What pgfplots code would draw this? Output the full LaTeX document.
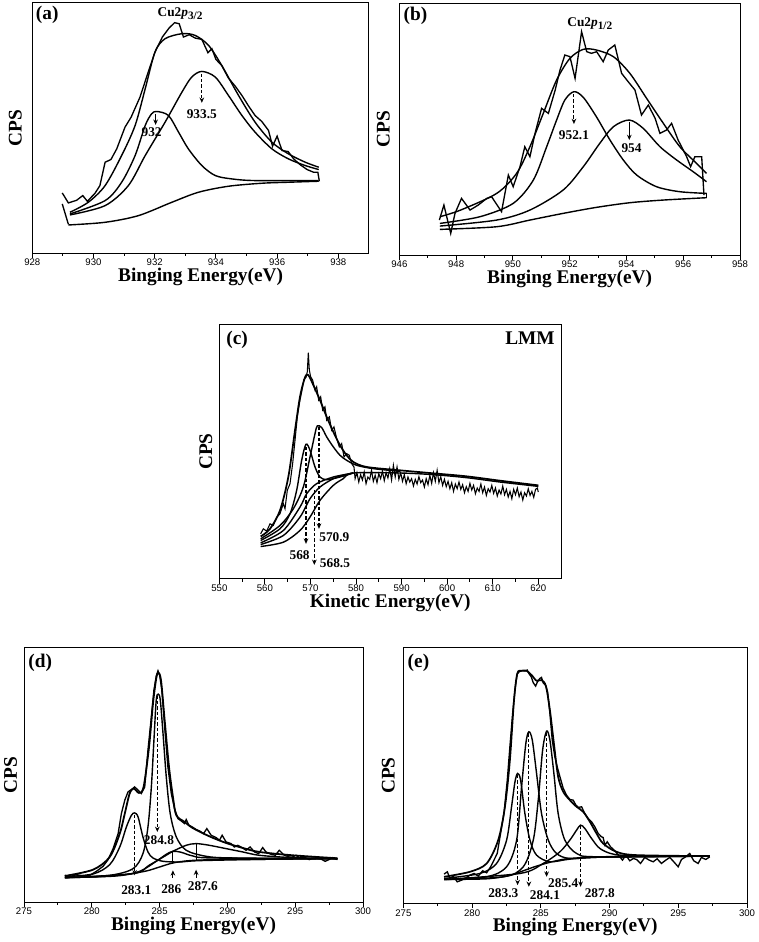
\documentclass[border=0pt]{standalone}
\usepackage{fontspec}
\setmainfont{Liberation Serif}
\newfontfamily\arialf{Liberation Sans}
\usepackage{pgfplots}
\pgfplotsset{compat=1.18}
\usetikzlibrary{arrows.meta}
\newcommand\pk{\bfseries\fontsize{10}{11}\selectfont}
\newcommand\pl{\bfseries\fontsize{14.5}{16}\selectfont}
\tikzset{
  dasharr/.style={dash pattern=on 2.5pt off 1.5pt, line width=0.85pt, -{Stealth[length=4pt,width=3.5pt]}},
  solarr/.style={line width=0.85pt, -{Stealth[length=4pt,width=3.5pt]}},
}
\pgfplotsset{
  xps/.style={
    scale only axis, anchor=north west, ymin=0,
    axis line style={line width=0.75pt},
    ytick=\empty, xtick pos=bottom, tick align=outside,
    minor x tick num=1,
    major tick length=3.5pt, minor tick length=2pt,
    tick style={black, line width=0.7pt},
    xticklabel style={font=\arialf\fontsize{7.2}{8}\selectfont, inner sep=0pt, anchor=north, yshift=-0.8pt},
    /pgf/number format/assume math mode=true,
    /pgf/number format/1000 sep={},
    label style={font=\bfseries\fontsize{14.5}{16}\selectfont, inner sep=0pt},
    xlabel style={at={(axis description cs:0.5,0)}, anchor=north, yshift=-11pt},
    ylabel={CPS},
  },
  fit/.style={black, line width=1.05pt, mark=none, smooth, tension=0.5},
  raw/.style={black, line width=1pt, mark=none, sharp plot},
}
\begin{document}
\begin{tikzpicture}
\path[use as bounding box] (0,0) rectangle (568.5pt,-706.5pt);

% ---------------- (a)
\begin{axis}[xps, at={(24.2pt,-2.25pt)}, width=252.5pt, height=187.5pt,
  xmin=928, xmax=939, ymax=749, xtick={928,930,...,938},
  xlabel={Binging Energy(eV)},
  ylabel style={at={(axis description cs:-0.03,0.5)}, anchor=south}]
\addplot[fit] coordinates {(929.18,84) (930.38,92) (931.47,112) (932.56,152) (933.43,182) (934.41,200) (935.50,209) (936.37,212) (937.36,215)};
\addplot[raw] coordinates {(928.98,147) (929.18,86)};
\addplot[fit] coordinates {(929.23,117) (930.38,157) (930.92,212) (931.36,292) (931.69,382) (931.90,417) (932.07,424) (932.45,412) (932.78,362) (933.10,312) (933.54,262) (933.98,232) (934.52,222) (935.28,217) (937.36,217)};
\addplot[fit] coordinates {(929.23,114) (930.38,142) (931.14,202) (931.69,292) (932.34,392) (932.89,482) (933.21,527) (933.54,544) (933.98,527) (934.41,472) (934.85,412) (935.28,362) (935.83,312) (936.37,282) (936.92,262) (937.36,250)};
\addplot[fit] coordinates {(929.23,122) (929.83,152) (930.38,202) (930.92,292) (931.36,382) (931.69,492) (932.01,602) (932.34,642) (932.89,657) (933.32,652) (933.76,622) (934.19,562) (934.74,472) (935.28,392) (935.83,332) (936.37,297) (936.92,272) (937.36,257)};
\addplot[raw] coordinates {(928.98,180) (929.18,150) (929.45,158) (929.65,172) (929.80,155) (930.05,179) (930.21,202) (930.38,272) (930.57,280) (930.76,312) (931.03,377) (931.23,407) (931.52,467) (931.77,537) (932.01,602) (932.25,647) (932.47,674) (932.65,690) (932.80,687) (932.94,647) (933.13,654) (933.32,644) (933.54,640) (933.74,600) (933.87,612) (934.00,580) (934.19,562) (934.41,524) (934.63,500) (934.85,472) (935.07,440) (935.28,412) (935.50,394) (935.72,367) (935.85,320) (936.00,350) (936.16,307) (936.36,304) (936.54,282) (936.76,264) (936.98,250) (937.19,242) (937.33,242) (937.38,215)};
\draw[dasharr] (axis cs:933.54,537) -- (axis cs:933.54,450);
\draw[solarr] (axis cs:932.03,417) -- (axis cs:932.03,384);
\node[font=\pk] at (axis cs:933.54,417) {933.5};
\node[font=\pk] at (axis cs:931.90,362) {932};
\node[font=\pk] at (axis cs:932.83,717) {Cu2\textit{p}\raisebox{-0.45ex}{\fontsize{8.5}{9}\selectfont 3/2}};
\node[font=\pl, anchor=north west, inner sep=0pt] at (rel axis cs:0.01,0.99) {(a)};
\end{axis}

% ---------------- (b)
\begin{axis}[xps, at={(299.5pt,-2.5pt)}, width=255.5pt, height=188.8pt,
  xmin=946, xmax=958, ymax=755, xtick={946,948,...,958},
  xlabel={Binging Energy(eV)},
  ylabel style={at={(axis description cs:-0.027,0.5)}, anchor=south}]
\addplot[fit] coordinates {(947.43,77) (949.43,85) (950.60,105) (951.77,125) (952.94,143) (954.12,157) (955.30,165) (956.82,172)};
\addplot[fit] coordinates {(947.43,95) (948.84,115) (950.01,155) (950.72,225) (951.19,325) (951.54,405) (951.83,465) (952.15,490) (952.48,473) (952.94,415) (953.42,345) (953.89,285) (954.36,240) (955.06,205) (955.88,190) (956.82,185)};
\addplot[fit] coordinates {(947.43,87) (949.43,105) (950.60,135) (951.77,195) (952.48,265) (953.06,335) (953.54,385) (954.10,405) (954.59,380) (955.18,325) (955.77,285) (956.35,250) (956.82,220)};
\addplot[fit] coordinates {(947.43,115) (948.16,135) (949.43,185) (950.13,245) (950.60,325) (951.07,425) (951.54,525) (952.01,590) (952.48,617) (952.94,615) (953.54,595) (954.12,545) (954.71,470) (955.30,395) (955.88,325) (956.47,275) (956.82,245)};
\addplot[raw] coordinates {(956.82,172) (956.82,185)};
\addplot[raw] coordinates {(947.41,105) (947.57,150) (947.81,65) (947.96,125) (948.19,170) (948.49,135) (948.78,150) (949.08,170) (949.25,175) (949.60,130) (949.84,240) (950.01,205) (950.25,265) (950.42,325) (950.60,295) (950.78,365) (951.01,440) (951.25,425) (951.49,495) (951.66,555) (951.83,600) (952.01,595) (952.19,530) (952.42,670) (952.60,610) (952.77,605) (952.95,610) (953.18,580) (953.36,615) (953.59,630) (953.83,545) (954.06,520) (954.30,495) (954.53,420) (954.77,450) (955.01,410) (955.18,365) (955.41,375) (955.59,395) (955.82,345) (956.12,295) (956.26,265) (956.41,295) (956.65,295) (956.73,180)};
\draw[dasharr] (axis cs:952.15,483) -- (axis cs:952.15,393);
\draw[solarr] (axis cs:954.10,400) -- (axis cs:954.10,345);
\node[font=\pk] at (axis cs:952.15,360) {952.1};
\node[font=\pk] at (axis cs:954.18,320) {954};
\node[font=\pk] at (axis cs:952.71,695) {Cu2\textit{p}\raisebox{-0.45ex}{\fontsize{8.5}{9}\selectfont 1/2}};
\node[font=\pl, anchor=north west, inner sep=0pt] at (rel axis cs:0.012,0.985) {(b)};
\end{axis}

% ---------------- (c)
\begin{axis}[xps, at={(164.5pt,-243.2pt)}, width=256.3pt, height=191pt,
  xmin=550, xmax=625, ymax=762, xtick={550,560,...,620},
  xlabel={Kinetic Energy(eV)},
  ylabel style={at={(axis description cs:-0.02,0.5)}, anchor=south}]
\addplot[fit] coordinates {(559.07,97) (564.05,110) (567.70,145) (569.90,185) (572.09,235) (575.02,280) (577.21,300) (579.41,317) (589.65,317) (596.97,312) (604.28,303) (611.60,290) (620.01,277)};
\addplot[fit] coordinates {(559.07,103) (564.05,130) (567.70,185) (569.90,240) (572.09,275) (575.02,300) (577.21,310) (579.41,317)};
\addplot[fit] coordinates {(559.07,108) (564.05,145) (567.70,215) (569.17,255) (571.36,285) (575.02,305) (579.41,317)};
\addplot[fit] coordinates {(559.07,115) (563.31,150) (565.51,195) (566.97,265) (568.07,355) (569.02,403) (569.90,385) (571.00,335) (572.09,305) (573.56,297) (576.48,305) (579.41,317)};
\addplot[fit] coordinates {(559.07,120) (563.31,160) (566.24,210) (568.43,275) (569.90,365) (571.00,435) (571.51,458) (572.46,453) (573.56,425) (575.02,395) (576.48,370) (577.94,355) (580.14,340) (583.80,330) (589.65,322)};
\addplot[fit, line width=1.3pt] coordinates {(559.07,127) (561.12,150) (563.31,205) (565.14,305) (566.61,445) (567.70,545) (568.80,603) (569.53,610) (570.63,580) (572.09,535) (573.56,485) (575.02,440) (576.48,400) (577.94,370) (579.41,350) (582.33,335) (589.65,325) (596.97,316) (604.28,307) (611.60,294) (620.01,280)};
\addplot[raw, line width=0.8pt] coordinates {(559.07,135) (559.66,150) (560.39,143) (561.12,165) (561.85,160) (562.58,185) (563.31,195) (564.05,225) (564.41,210) (564.92,265) (565.51,285) (566.09,345) (566.61,415) (567.12,485) (567.70,535) (568.14,565) (568.58,597) (569.02,603) (569.31,620) (569.53,677) (569.75,625) (570.04,605) (570.48,595) (571.00,565) (571.36,575) (571.80,535) (572.24,545) (572.68,505) (573.19,515) (573.56,475) (574.14,485) (574.65,445) (575.16,455) (575.75,420) (576.33,395) (576.85,405) (577.36,365) (577.94,375) (578.53,370) (579.04,345) (579.55,335)
(579.8,300) (580.2,318) (580.6,290) (581.0,312) (581.4,296) (581.8,320) (582.2,285) (582.6,305) (583.0,298) (583.4,325) (583.8,292) (584.2,310) (584.6,288) (585.0,315) (585.4,300) (585.8,322) (586.2,294) (586.6,318) (587.0,302) (587.4,330) (587.8,296) (588.2,340) (588.6,305) (589.0,335) (589.4,298) (589.8,318) (590.2,292) (590.6,312) (591.0,285) (591.4,305) (591.8,290) (592.2,300) (592.6,278) (593.0,298) (593.4,284) (593.8,306) (594.2,288) (594.6,296) (595.0,275) (595.4,300) (595.8,282) (596.2,310) (596.6,286) (597.0,318) (597.4,292) (597.8,325) (598.2,288) (598.6,306) (599.0,280) (599.4,298) (599.8,276) (600.2,292) (600.6,270) (601.0,288) (601.4,262) (601.8,284) (602.2,270) (602.6,290) (603.0,268) (603.4,282) (603.8,258) (604.2,276) (604.6,262) (605.0,286) (605.4,266) (605.8,280) (606.2,255) (606.6,272) (607.0,262) (607.4,284) (607.8,258) (608.2,275) (608.6,250) (609.0,270) (609.4,260) (609.8,280) (610.2,256) (610.6,272) (611.0,248) (611.4,266) (611.8,254) (612.2,278) (612.6,252) (613.0,268) (613.4,245) (613.8,262) (614.2,240) (614.6,268) (615.0,252) (615.4,272) (615.8,246) (616.2,260) (616.6,236) (617.0,258) (617.4,248) (617.8,270) (618.2,250) (618.6,262) (619.0,244) (619.4,268) (619.8,272) (620.0,260)};
\draw[dasharr] (axis cs:569.02,395) -- (axis cs:569.02,105);
\draw[dasharr] (axis cs:570.85,265) -- (axis cs:570.85,42);
\draw[dasharr] (axis cs:571.87,455) -- (axis cs:571.87,150);
\node[font=\pk] at (axis cs:567.63,70) {568};
\node[font=\pk] at (axis cs:575.38,47) {568.5};
\node[font=\pk] at (axis cs:575.24,125) {570.9};
\node[font=\pl, anchor=north west, inner sep=0pt] at (rel axis cs:0.02,0.975) {(c)};
\node[font=\pl, anchor=north east, inner sep=0pt] at (rel axis cs:0.982,0.97) {LMM};
\end{axis}

% ---------------- (d)
\begin{axis}[xps, at={(18pt,-485.8pt)}, width=254.3pt, height=190.7pt,
  xmin=275, xmax=300, ymax=762, xtick={275,280,...,300},
  xlabel={Binging Energy(eV)},
  ylabel style={at={(axis description cs:-0.02,0.5)}, anchor=south}]
\addplot[fit] coordinates {(278.01,73) (280.59,76) (282.55,83) (284.02,93) (285.00,105) (285.98,117) (287.21,124) (289.17,127) (292.84,128) (298.11,130)};
\addplot[fit] coordinates {(278.01,76) (280.10,84) (281.32,112) (282.06,165) (282.55,225) (282.92,260) (283.16,267) (283.41,255) (283.77,195) (284.14,150) (284.51,132) (285.25,122) (286.47,120) (287.94,124) (292.84,128) (298.11,130)};
\addplot[fit] coordinates {(278.01,73) (281.32,80) (283.04,100) (283.77,145) (284.14,225) (284.39,345) (284.58,485) (284.75,605) (284.90,623) (285.05,605) (285.25,505) (285.49,375) (285.78,265) (286.23,195) (286.96,155) (288.43,137) (290.39,132) (298.11,130)};
\addplot[fit] coordinates {(278.01,73) (281.81,78) (283.53,92) (284.75,122) (285.49,143) (285.98,152) (286.59,149) (287.45,138) (288.92,132) (298.11,130)};
\addplot[fit] coordinates {(278.01,73) (283.04,85) (284.22,110) (285.40,138) (285.98,152) (286.96,170) (287.69,175) (288.66,170) (289.90,160) (291.13,150) (292.35,140) (294.80,133) (298.11,130)};
\addplot[fit, line width=1.35pt] coordinates {(278.01,78) (280.10,97) (281.32,135) (282.06,205) (282.43,265) (282.79,325) (283.09,340) (283.48,327) (283.82,345) (284.22,465) (284.51,595) (284.75,670) (284.90,687) (285.10,665) (285.37,545) (285.69,405) (285.98,315) (286.23,260) (286.84,240) (287.43,222) (288.66,197) (289.90,177) (291.13,162) (292.35,150) (294.80,140) (298.11,131)};
\addplot[raw] coordinates {(278.01,80) (278.38,76) (278.87,82) (279.36,78) (279.85,80) (280.34,92) (280.83,107) (281.20,127) (281.57,160) (281.94,205) (282.18,265) (282.43,305) (282.67,330) (282.92,337) (283.16,345) (283.41,335) (283.65,325) (283.90,345) (284.14,455) (284.39,555) (284.58,635) (284.75,677) (284.88,693) (285.00,680) (285.17,635) (285.37,525) (285.61,405) (285.86,325) (286.10,280) (286.35,250) (286.59,243) (286.84,235) (286.96,247) (287.16,230) (287.40,225) (287.70,217) (287.94,213) (288.24,205) (288.48,220) (288.80,200) (289.17,193) (289.41,185) (289.61,200) (289.90,180) (290.27,175) (290.51,165) (290.76,170) (291.08,163) (291.37,155) (291.67,165) (291.99,150) (292.30,145) (292.60,163) (292.84,150) (293.21,143) (293.53,140) (293.82,155) (294.19,140) (294.56,135) (294.80,135) (295.05,140) (295.42,130) (295.66,135) (296.03,127) (296.40,132) (296.89,129) (297.20,122) (297.38,125) (297.75,133) (298.11,127)};
\draw[dasharr] (axis cs:283.16,262) -- (axis cs:283.16,80);
\draw[dasharr] (axis cs:284.83,618) -- (axis cs:284.83,210);
\draw[line width=0.8pt] (axis cs:285.98,152) -- (axis cs:285.98,115);
\draw[solarr] (axis cs:285.98,72) -- (axis cs:285.98,95);
\draw[line width=0.8pt] (axis cs:287.69,175) -- (axis cs:287.69,123);
\draw[solarr] (axis cs:287.69,72) -- (axis cs:287.69,97);
\node[font=\pk] at (axis cs:283.28,35) {283.1};
\node[font=\pk] at (axis cs:284.95,185) {284.8};
\node[font=\pk] at (axis cs:285.86,38) {286};
\node[font=\pk] at (axis cs:288.19,46) {287.6};
\node[font=\pl, anchor=north west, inner sep=0pt] at (rel axis cs:0.012,0.975) {(d)};
\end{axis}

% ---------------- (e)
\begin{axis}[xps, at={(302.5pt,-485.8pt)}, width=257.8pt, height=191.8pt,
  xmin=275, xmax=300, ymax=767, xtick={275,280,...,300},
  xlabel={Binging Energy(eV)},
  ylabel style={at={(axis description cs:-0.024,0.5)}, anchor=south}]
\addplot[fit] coordinates {(277.96,72) (281.06,74) (282.75,84) (283.72,98) (284.69,112) (285.90,126) (287.11,135) (289.53,140) (291.96,142) (297.29,142)};
\addplot[fit] coordinates {(277.96,75) (280.57,90) (281.78,120) (282.51,190) (282.87,290) (283.12,365) (283.31,390) (283.53,370) (283.84,270) (284.21,190) (284.69,145) (285.66,125) (287.11,133) (289.53,139) (297.29,142)};
\addplot[fit] coordinates {(277.96,72) (281.06,80) (282.51,110) (283.24,190) (283.60,350) (283.91,480) (284.13,515) (284.38,490) (284.69,390) (285.05,270) (285.54,190) (286.14,150) (287.11,135) (289.53,139) (297.29,142)};
\addplot[fit] coordinates {(277.96,72) (282.27,80) (283.72,110) (284.45,190) (284.81,310) (285.13,460) (285.42,517) (285.66,490) (285.95,390) (286.26,270) (286.75,190) (287.60,150) (289.05,140) (297.29,142)};
\addplot[fit] coordinates {(277.96,72) (283.48,90) (285.17,120) (286.39,155) (287.11,190) (287.60,220) (287.89,235) (288.20,225) (288.69,195) (289.29,165) (290.26,148) (291.96,143) (297.29,142)};
\addplot[fit, line width=1.3pt] coordinates {(277.96,80) (279.84,95) (281.06,120) (281.90,190) (282.39,290) (282.75,430) (283.05,610) (283.29,690) (283.60,698) (283.96,698) (284.33,685) (284.69,668) (285.05,670) (285.37,652) (285.66,580) (285.95,480) (286.26,380) (286.63,335) (287.11,310) (287.60,290) (288.08,275) (288.57,245) (289.05,210) (289.53,180) (290.50,155) (291.96,145) (297.29,142)};
\addplot[raw] coordinates {(277.96,88) (278.20,95) (278.39,75) (278.63,82) (278.92,65) (279.24,70) (279.60,78) (279.84,85) (280.14,90) (280.45,82) (280.77,98) (281.06,92) (281.35,110) (281.59,130) (281.83,150) (282.07,210) (282.32,270) (282.56,370) (282.75,470) (282.95,570) (283.14,648) (283.28,688) (283.43,695) (283.62,698) (283.84,697) (284.01,700) (284.16,688) (284.30,680) (284.45,662) (284.62,652) (284.76,665) (284.93,675) (285.05,678) (285.17,662) (285.34,655) (285.49,635) (285.66,570) (285.83,490) (286.02,440) (286.19,410) (286.39,380) (286.63,345) (286.87,325) (287.11,312) (287.35,310) (287.55,295) (287.74,288) (287.96,290) (288.20,270) (288.44,255) (288.69,245) (288.93,230) (289.17,210) (289.41,200) (289.53,198) (289.66,175) (289.83,185) (290.07,170) (290.38,158) (290.70,142) (290.94,130) (291.18,145) (291.47,128) (291.72,135) (291.96,132) (292.25,120) (292.56,138) (292.88,130) (293.17,125) (293.46,134) (293.77,120) (294.09,130) (294.38,138) (294.67,125) (294.99,110) (295.23,132) (295.54,140) (295.83,150) (296.12,128) (296.44,120) (296.68,138) (297.00,132) (297.29,140)};
\draw[dasharr] (axis cs:283.31,385) -- (axis cs:283.31,55);
\draw[dasharr] (axis cs:284.13,510) -- (axis cs:284.13,50);
\draw[dasharr] (axis cs:285.42,512) -- (axis cs:285.42,80);
\draw[dasharr] (axis cs:287.89,232) -- (axis cs:287.89,50);
\node[font=\pk] at (axis cs:282.27,30) {283.3};
\node[font=\pk] at (axis cs:285.30,25) {284.1};
\node[font=\pk] at (axis cs:286.63,60) {285.4};
\node[font=\pk] at (axis cs:289.29,32) {287.8};
\node[font=\pl, anchor=north west, inner sep=0pt] at (rel axis cs:0.012,0.975) {(e)};
\end{axis}
\end{tikzpicture}
\end{document}
